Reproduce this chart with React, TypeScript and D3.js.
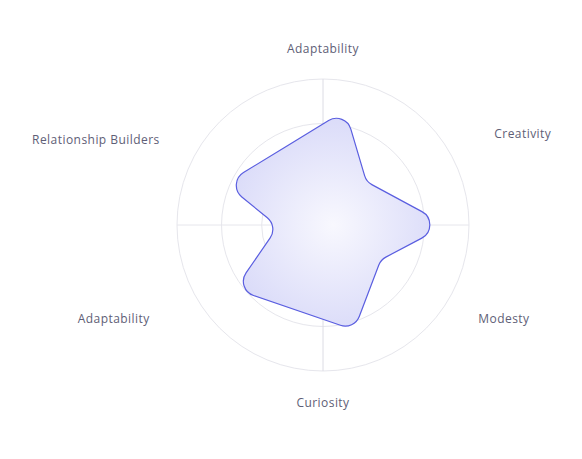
import React from "react";
import * as d3 from "d3";

// ---- data ----
const axisLabels = ["Adaptability", "Creativity", "Modesty", "Curiosity", "Adaptability", "Relationship Builders"];
const axisAngles = [0, 60, 120, 180, 240, 300];
// outline vertices of the filled shape (angle in degrees clockwise from top, value 0-100)
const shapeAngles = [11, 45, 90, 121, 163.5, 234, 268, 293];
const shapeValues = [80, 42, 84.7, 46.2, 75, 74.7, 30.8, 72.6];
const gridTicks = [42, 69.5, 100];

// ---- layout ----
const W = 582;
const H = 459;
const CX = 323;
const CY = 225;
const R = 146;
const LABEL_R = 177;
const CORNER = 15;
const labelNudge: [number, number][] = [
  [0, 0],
  [18, -3.5],
  [2, 4.5],
  [0, 0],
  [-20, 4.5],
  [-10, 2.5],
];

export default function App() {
  const r = d3.scaleLinear().domain([0, 100]).range([0, R]);
  const toXY = (deg: number, v: number): [number, number] => {
    const a = (deg * Math.PI) / 180;
    return [CX + r(v) * Math.sin(a), CY - r(v) * Math.cos(a)];
  };
  const pts = shapeAngles.map((a, i) => toXY(a, shapeValues[i]));
  const p = d3.path();
  const n = pts.length;
  const last = pts[n - 1];
  p.moveTo((last[0] + pts[0][0]) / 2, (last[1] + pts[0][1]) / 2);
  for (let i = 0; i < n; i++) {
    const v = pts[i];
    const nx = pts[(i + 1) % n];
    p.arcTo(v[0], v[1], nx[0], nx[1], CORNER);
  }
  p.closePath();

  return (
    <svg width={W} height={H} style={{ position: "absolute", left: 0, top: 0, background: "#fff" }}>
      <defs>
        <radialGradient id="fillGrad" gradientUnits="userSpaceOnUse" cx={CX + 10} cy={CY} r={125}>
          <stop offset="0" stopColor="#f8f8fe" />
          <stop offset="1" stopColor="#d6d7f8" />
        </radialGradient>
      </defs>
      {gridTicks.map((t) => (
        <circle key={t} cx={CX} cy={CY} r={r(t)} fill="none" stroke="#e6e6ec" strokeWidth={1} />
      ))}
      <line x1={CX} x2={CX} y1={CY - r(100)} y2={CY + r(100)} stroke="#dcdce4" strokeWidth={1} />
      <line x1={CX - r(100)} x2={CX + r(100)} y1={CY} y2={CY} stroke="#e6e6ec" strokeWidth={1} />
      <path d={p.toString()} fill="url(#fillGrad)" stroke="#5a5ee0" strokeWidth={1.2} />
      {axisLabels.map((lab, i) => {
        const a = axisAngles[i];
        const [x, y] = toXY(a, (LABEL_R / R) * 100);
        const s = Math.sin((a * Math.PI) / 180);
        const anchor = Math.abs(s) < 0.01 ? "middle" : s > 0 ? "start" : "end";
        return (
          <text
            key={i}
            x={x + labelNudge[i][0]}
            y={y + labelNudge[i][1]}
            textAnchor={anchor}
            dominantBaseline="central"
            fontFamily="'Open Sans', sans-serif"
            fontSize={12}
            letterSpacing={0.45}
            fill="#5e5e76"
          >
            {lab}
          </text>
        );
      })}
    </svg>
  );
}
